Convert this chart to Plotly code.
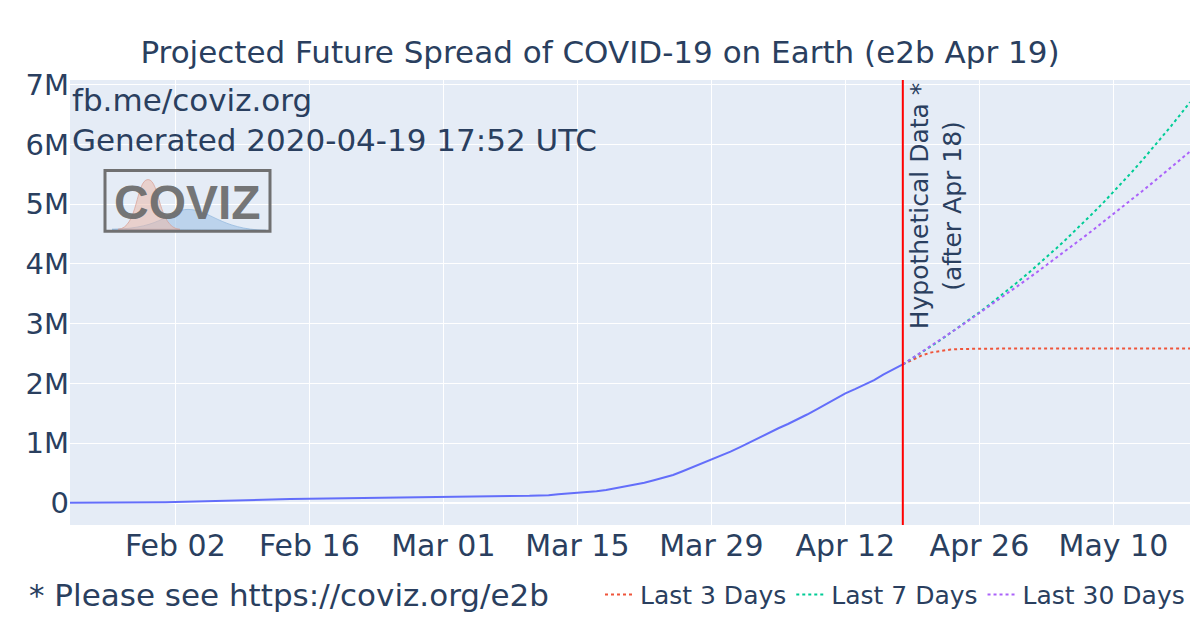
import plotly.graph_objects as go

# observed worldwide confirmed cases (Jan 22 - Apr 18, 2020)
obs_start = "2020-01-22"
observed = [
    555, 654, 941, 1434, 2118, 2927, 5578, 6166, 8234, 9927,
    12038, 16787, 19881, 23892, 27635, 30794, 34391, 37120, 40150, 42762,
    44802, 45221, 60368, 66885, 69030, 71224, 73258, 75136, 75639, 76197,
    76819, 78572, 78958, 79561, 80406, 81388, 82746, 84112, 86011, 88369,
    90306, 92840, 95120, 97886, 101801, 105847, 109821, 113590, 118620, 125875,
    128352, 145205, 156101, 167454, 181574, 197102, 214821, 242570, 272208, 304507,
    336953, 378235, 418045, 467653, 529591, 593291, 660706, 720117, 782365, 857487,
    932605, 1013157, 1095917, 1176060, 1249754, 1321481, 1396476, 1479804, 1565278, 1657526,
    1735650, 1834721, 1904838, 1976191, 2056054, 2152437, 2240190, 2317758,
]

# projections (Apr 18 - May 18), millions
proj_start = "2020-04-18"
last3 = [
    2.318, 2.400, 2.470, 2.520, 2.550, 2.568, 2.577, 2.581, 2.583, 2.583,
    2.583, 2.583, 2.583, 2.583, 2.583, 2.583, 2.583, 2.583, 2.583, 2.583,
    2.583, 2.583, 2.583, 2.583, 2.583, 2.583, 2.583, 2.583, 2.583, 2.583, 2.583,
]
last7 = [
    2.318, 2.418, 2.521, 2.626, 2.733, 2.844, 2.957, 3.073, 3.192, 3.314,
    3.438, 3.566, 3.698, 3.832, 3.970, 4.111, 4.256, 4.405, 4.557, 4.713,
    4.873, 5.036, 5.204, 5.377, 5.553, 5.734, 5.919, 6.109, 6.304, 6.504, 6.708,
]
last30 = [
    2.318, 2.422, 2.527, 2.633, 2.740, 2.847, 2.956, 3.066, 3.177, 3.288,
    3.401, 3.515, 3.630, 3.745, 3.862, 3.980, 4.099, 4.219, 4.340, 4.462,
    4.586, 4.710, 4.836, 4.962, 5.090, 5.219, 5.349, 5.480, 5.613, 5.747, 5.882,
]
proj_names = ["Last 3 Days", "Last 7 Days", "Last 30 Days"]
proj_colors = ["#EF553B", "#00cc96", "#ab63fa"]

cutoff = "2020-04-18"
xticks = ["2020-02-02", "2020-02-16", "2020-03-01", "2020-03-15",
          "2020-03-29", "2020-04-12", "2020-04-26", "2020-05-10"]

FONT = "DejaVu Sans"
TXT = "#2a3f5f"

fig = go.Figure()
fig.add_trace(go.Scatter(
    x0=obs_start, dx=86400000, y=observed, mode="lines",
    line=dict(color="#636efa", width=2), showlegend=False,
))
for name, col, vals in zip(proj_names, proj_colors, [last3, last7, last30]):
    fig.add_trace(go.Scatter(
        x0=proj_start, dx=86400000, y=[v * 1e6 for v in vals], mode="lines",
        name=name, line=dict(color=col, width=2, dash="dot"),
    ))

fig.add_shape(type="line", xref="x", yref="paper", x0=cutoff, x1=cutoff,
              y0=0, y1=1, line=dict(color="red", width=2))

# logo box (pixel positions converted to paper coords)
px = lambda v: (v - 70) / 1120
py = lambda v: (527 - v) / 447
fig.add_shape(type="path", xref="paper", yref="paper", layer="above",
              path=f"M {px(112)},{py(230)} C {px(165)},{py(229)} {px(168)},{py(210)} {px(188)},{py(210)} "
                   f"C {px(210)},{py(210)} {px(220)},{py(230)} {px(266)},{py(231)} Z",
              fillcolor="rgba(160,195,230,0.6)", line=dict(color="rgba(140,180,220,0.7)", width=1))
fig.add_shape(type="path", xref="paper", yref="paper", layer="above",
              path=f"M {px(118)},{py(230)} C {px(138)},{py(229)} {px(136)},{py(180)} {px(148)},{py(180)} "
                   f"C {px(160)},{py(180)} {px(158)},{py(229)} {px(180)},{py(230)} Z",
              fillcolor="rgba(235,185,170,0.55)", line=dict(color="rgba(215,160,150,0.7)", width=1))
fig.add_annotation(x=px(187), y=py(203), xref="paper", yref="paper",
                   xanchor="center", yanchor="middle",
                   text="<b>COVIZ</b>", showarrow=False,
                   font=dict(family="Liberation Sans", size=48, color="rgba(105,105,105,0.92)"))
fig.add_shape(type="rect", xref="paper", yref="paper", layer="above",
              x0=px(105), x1=px(270), y0=py(232), y1=py(171),
              line=dict(color="rgba(105,105,105,0.95)", width=3))

fig.add_annotation(x=0, y=1, xref="paper", yref="paper", xanchor="left", yanchor="top",
                   text="fb.me/coviz.org<br>Generated 2020-04-19 17:52 UTC",
                   align="left", showarrow=False, font=dict(size=31, color=TXT))
fig.add_annotation(x=cutoff, y=1, xref="x", yref="paper", xanchor="left", yanchor="top",
                   text="Hypothetical Data *<br>(after Apr 18)", textangle=-90,
                   showarrow=False, font=dict(size=25, color=TXT))
fig.add_annotation(x=px(27), y=py(597), xref="paper", yref="paper",
                   xanchor="left", yanchor="middle",
                   text="* Please see https://coviz.org/e2b", showarrow=False,
                   font=dict(size=31, color=TXT))

fig.update_layout(
    template="plotly",
    width=1200, height=628,
    margin=dict(l=70, r=10, t=80, b=101),
    font=dict(family=FONT, color=TXT),
    title=dict(text="Projected Future Spread of COVID-19 on Earth (e2b Apr 19)",
               x=0.5, xanchor="center", y=1 - 52 / 628, yanchor="middle",
               font=dict(size=31)),
    legend=dict(orientation="h", x=1, xanchor="right", y=py(597), yanchor="middle",
                font=dict(size=25)),
    xaxis=dict(range=["2020-01-22", "2020-05-18"], tickvals=xticks,
               tickformat="%b %d", tickfont=dict(size=30)),
    yaxis=dict(range=[-0.37e6, 7.08e6], dtick=1e6, tickfont=dict(size=29)),
)

fig.write_html("out.html", config={"displayModeBar": False},
               post_script="document.body.style.margin='0px';")
